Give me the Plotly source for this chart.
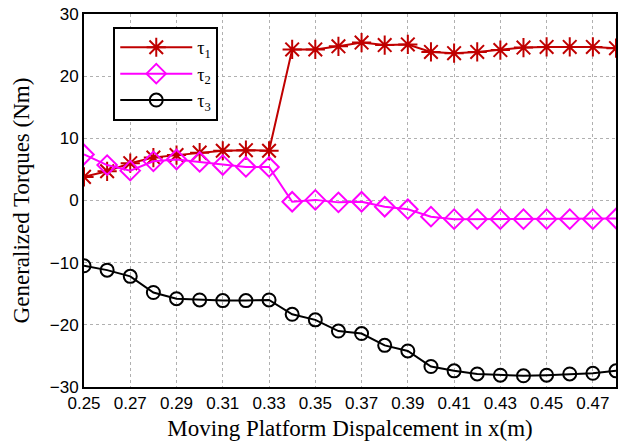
import plotly.graph_objects as go

x_disp = [0.25, 0.26, 0.27, 0.28, 0.29, 0.30, 0.31, 0.32, 0.33, 0.34, 0.35, 0.36,
          0.37, 0.38, 0.39, 0.40, 0.41, 0.42, 0.43, 0.44, 0.45, 0.46, 0.47, 0.48]
tau1 = [3.8, 4.7, 6.0, 6.9, 7.3, 7.7, 8.0, 8.1, 8.0, 24.3, 24.3, 24.8,
        25.4, 25.0, 25.1, 23.9, 23.7, 23.9, 24.2, 24.6, 24.7, 24.7, 24.7, 24.5]
tau2 = [7.4, 5.7, 4.8, 6.3, 6.6, 6.2, 5.7, 5.4, 5.4, -0.2, 0.1, -0.3,
        -0.2, -1.0, -1.4, -2.6, -3.0, -3.0, -3.0, -3.0, -3.0, -3.0, -3.0, -2.9]
tau3 = [-10.5, -11.2, -12.2, -14.8, -15.8, -16.0, -16.1, -16.1, -16.0, -18.3, -19.2, -21.0,
        -21.4, -23.3, -24.2, -26.7, -27.4, -27.9, -28.1, -28.2, -28.1, -27.9, -27.8, -27.4]
series_names = ["τ<sub>1</sub>", "τ<sub>2</sub>", "τ<sub>3</sub>"]
x_ticks = [0.25, 0.27, 0.29, 0.31, 0.33, 0.35, 0.37, 0.39, 0.41, 0.43, 0.45, 0.47]
y_ticks = [-30, -20, -10, 0, 10, 20, 30]

SERIF = "Liberation Serif, Times New Roman, serif"
SANS = "Liberation Sans, Arial, sans-serif"

fig = go.Figure()
fig.add_trace(go.Scatter(x=x_disp, y=tau1, name=series_names[0], mode="lines+markers",
                         line=dict(color="#c00000", width=2),
                         marker=dict(symbol="asterisk-open", size=16,
                                     line=dict(color="#c00000", width=2))))
fig.add_trace(go.Scatter(x=x_disp, y=tau2, name=series_names[1], mode="lines+markers",
                         line=dict(color="#ff00ff", width=2),
                         marker=dict(symbol="diamond-open", size=15, color="#ff00ff",
                                     line=dict(color="#ff00ff", width=2))))
fig.add_trace(go.Scatter(x=x_disp, y=tau3, name=series_names[2], mode="lines+markers",
                         line=dict(color="black", width=2),
                         marker=dict(symbol="circle-open", size=13, color="black",
                                     line=dict(color="black", width=2))))

axis_common = dict(showline=True, linecolor="black", linewidth=2, mirror=True,
                   showgrid=True, gridcolor="#b0b0b0", griddash="dot", gridwidth=1,
                   zeroline=False, ticks="", automargin=False,
                   tickfont=dict(family=SANS, size=17, color="black"))

fig.update_layout(
    width=638, height=443,
    margin=dict(l=84, r=22, t=14, b=56),
    paper_bgcolor="white", plot_bgcolor="white",
    showlegend=True,
    legend=dict(x=0.055, y=0.965, xanchor="left", yanchor="top",
                bgcolor="white", bordercolor="black", borderwidth=2,
                font=dict(family=SERIF, size=18, color="black"),
                tracegroupgap=0, itemwidth=72),
    xaxis=dict(range=[0.25, 0.48], tickvals=x_ticks,
               ticktext=[f"{v:.2f}" for v in x_ticks],
               title=dict(text="Moving Platform Dispalcement in x(m)", standoff=7,
                          font=dict(family=SERIF, size=23, color="black")),
               **axis_common),
    yaxis=dict(range=[-30, 30], tickvals=y_ticks,
               title=dict(text="Generalized Torques (Nm)", standoff=14,
                          font=dict(family=SERIF, size=23, color="black")),
               **axis_common),
)

fig.write_html("out.html", config={"displayModeBar": False},
               post_script="document.body.style.margin='0';document.body.style.padding='0';")
